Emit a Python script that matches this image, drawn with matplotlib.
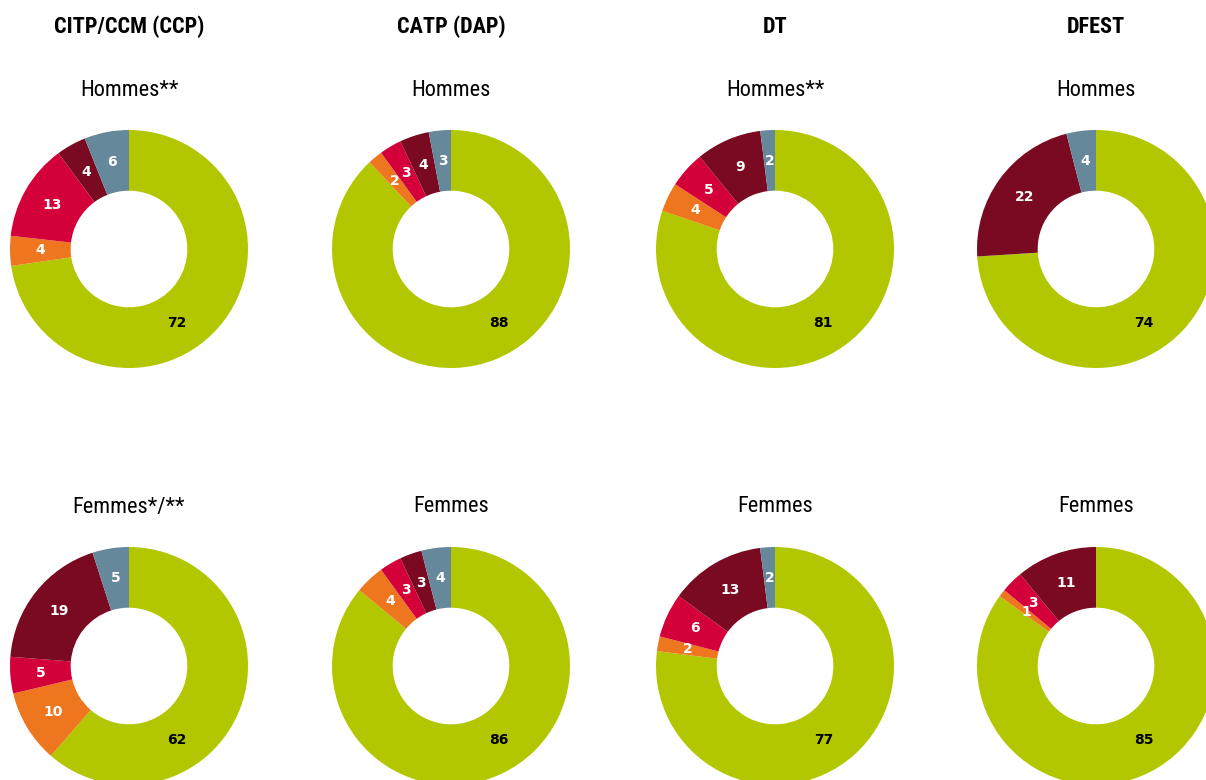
import numpy as np
import matplotlib
matplotlib.use("Agg")
import matplotlib.pyplot as plt

# category order, clockwise from 12 o'clock
colors = ["#b2c700", "#ee761f", "#d4003a", "#7a0a21", "#66889b"]

diplomes = ["CITP/CCM (CCP)", "CATP (DAP)", "DT", "DFEST"]
hommes_titles = ["Hommes**", "Hommes", "Hommes**", "Hommes"]
femmes_titles = ["Femmes*/**", "Femmes", "Femmes", "Femmes"]

hommes = [
    [72, 4, 13, 4, 6],
    [88, 2, 3, 4, 3],
    [81, 4, 5, 9, 2],
    [74, 0, 0, 22, 4],
]
femmes = [
    [62, 10, 5, 19, 5],
    [86, 4, 3, 3, 4],
    [77, 2, 6, 13, 2],
    [85, 1, 3, 11, 0],
]

narrow = ["Roboto Condensed", "Archivo Narrow", "DejaVu Sans"]

W, H = 1206, 780
fig = plt.figure(figsize=(W / 100, H / 100), dpi=100)

col_x = [129, 451, 775, 1096]
row_y = [249, 666]
R = 119
hole = 0.49


def donut(cx, cy, vals):
    ax = fig.add_axes([(cx - R) / W, 1 - (cy + R) / H, 2 * R / W, 2 * R / H])
    wedges, _ = ax.pie(vals, colors=colors, startangle=90, counterclock=False,
                       radius=1, wedgeprops=dict(width=1 - hole, linewidth=0))
    ax.set_xlim(-1, 1)
    ax.set_ylim(-1, 1)
    ax.set_aspect("equal")
    ax.axis("off")
    rl = (1 + hole) / 2
    for i, (w, v) in enumerate(zip(wedges, vals)):
        if v <= 0:
            continue
        if i == 0:
            # the big share is always labelled at the same spot
            ang = np.deg2rad(-57)
            col = "black"
        else:
            ang = np.deg2rad((w.theta1 + w.theta2) / 2)
            col = "white"
        ax.text(rl * np.cos(ang), rl * np.sin(ang), str(v), ha="center", va="center",
                color=col, fontsize=10, fontweight="bold", family="DejaVu Sans")


for j in range(4):
    fig.text(col_x[j] / W, 1 - 27 / H, diplomes[j], ha="center", va="center",
             fontsize=16, fontweight="bold", family=narrow)
    fig.text(col_x[j] / W, 1 - 91 / H, hommes_titles[j], ha="center", va="center",
             fontsize=16, family=narrow)
    fig.text(col_x[j] / W, 1 - 507 / H, femmes_titles[j], ha="center", va="center",
             fontsize=16, family=narrow)
    donut(col_x[j], row_y[0], hommes[j])
    donut(col_x[j], row_y[1], femmes[j])

fig.savefig("out.png", dpi=100, facecolor="white")
